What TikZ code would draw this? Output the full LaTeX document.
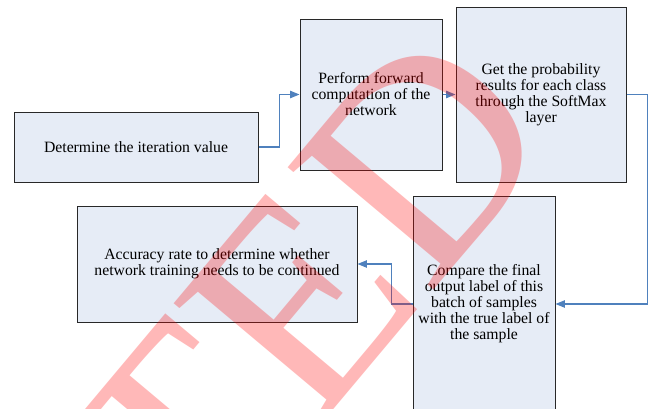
\documentclass[tikz,border=0pt]{standalone}
\usepackage{fontspec}
\setmainfont{Liberation Serif}
\usetikzlibrary{arrows.meta}
\definecolor{boxfill}{RGB}{230,236,246}
\definecolor{boxline}{RGB}{40,40,40}
\definecolor{linkblue}{RGB}{79,129,189}
\tikzset{
  box/.style={draw=boxline, line width=0.75pt, fill=boxfill, align=center,
    inner sep=1pt, font=\fontsize{11.8}{12}\selectfont},
  link/.style={draw=linkblue, line width=0.8pt,
    -{Triangle[length=7pt,width=5.5pt]}},
}
\begin{document}
\begin{tikzpicture}[x=0.75pt, y=-0.75pt]
  \useasboundingbox (0,0) rectangle (655,408);
  \clip (0,0) rectangle (655,408);
  \node[box, minimum width=183pt, minimum height=52.5pt] (iter) at (136,147) {Determine the iteration value};
  \node[box, minimum width=106.5pt, minimum height=113.25pt] (fwd) at (371,94.5) {Perform forward\\computation of the\\network};
  \node[box, minimum width=127.5pt, minimum height=131.25pt] (soft) at (541,94.5) {Get the probability\\results for each class\\through the SoftMax\\layer};
  \node[box, minimum width=210pt, minimum height=87pt] (acc) at (217,264) {Accuracy rate to determine whether\\network training needs to be continued};
  \node[box, minimum width=106.5pt, minimum height=162pt] (cmp) at (484,304) {Compare the final\\output label of this\\batch of samples\\with the true label of\\the sample};

  \draw[link] (iter.east) -- ++(21,0) |- (fwd.west);
  \draw[link] (fwd.east) -- (soft.west);
  \draw[link] (soft.east) -- ++(21,0) |- (cmp.east);
  \draw[link] (cmp.west) -- ++(-21,0) |- (acc.east);

  \node[red, opacity=0.28, rotate=50, anchor=base, font=\fontsize{218}{218}\selectfont] (mark) at (382,352) {TED};
\end{tikzpicture}
\end{document}
